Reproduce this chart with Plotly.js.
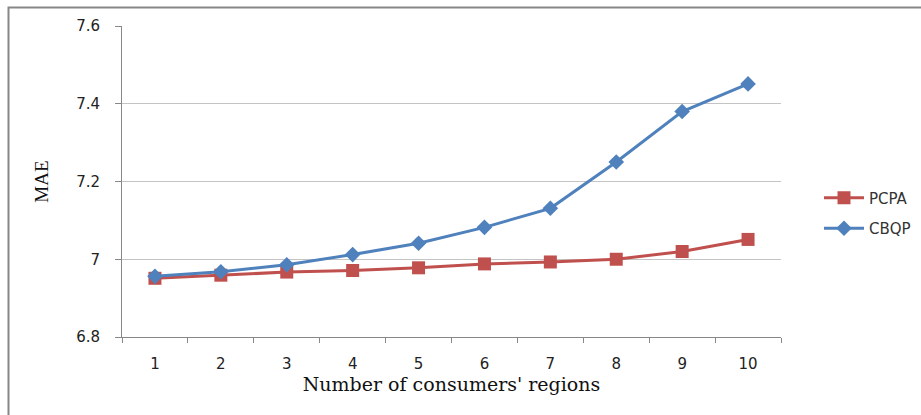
<!DOCTYPE html>
<html>
<head>
<meta charset="utf-8">
<script src="https://cdn.plot.ly/plotly-3.0.1.min.js"></script>
<style>
html,body{margin:0;padding:0;background:#fff;}
#chart{width:921px;height:415px;}
</style>
</head>
<body>
<div id="chart"></div>
<script>
const categories = ['1','2','3','4','5','6','7','8','9','10'];
const pcpa = [6.951, 6.959, 6.967, 6.971, 6.978, 6.988, 6.993, 7.000, 7.020, 7.051];
const cbqp = [6.956, 6.968, 6.986, 7.012, 7.041, 7.082, 7.131, 7.250, 7.380, 7.451];
const yTicks = [6.8, 7.0, 7.2, 7.4, 7.6];
const yTickText = ['6.8', '7', '7.2', '7.4', '7.6'];

const W = 921, H = 415;
const m = {l: 122, r: 140, t: 26, b: 78, autoexpand: false};
const pw = W - m.l - m.r, ph = H - m.t - m.b;
const px = v => (v - m.l) / pw;
const py = v => (H - m.b - v) / ph;

const traces = [
  {
    x: categories, y: pcpa, name: 'PCPA', type: 'scatter', mode: 'lines+markers',
    legendgroup: 'a',
    line: {color: '#C0504D', width: 3},
    marker: {symbol: 'square', size: 13, color: '#C0504D'}
  },
  {
    x: categories, y: cbqp, name: 'CBQP', type: 'scatter', mode: 'lines+markers',
    legendgroup: 'b',
    line: {color: '#4F81BD', width: 3},
    marker: {symbol: 'diamond', size: 12, color: '#4F81BD'}
  }
];

const layout = {
  width: W, height: H,
  margin: m,
  paper_bgcolor: '#fff', plot_bgcolor: '#fff',
  showlegend: true,
  legend: {
    x: px(819), y: py(213), xanchor: 'left', yanchor: 'middle',
    font: {family: 'DejaVu Sans, sans-serif', size: 15, color: '#333'},
    traceorder: 'grouped', tracegroupgap: 8,
    itemwidth: 40, bgcolor: 'rgba(0,0,0,0)'
  },
  xaxis: {
    type: 'category',
    range: [-0.5, 9.5],
    tickson: 'boundaries',
    ticks: 'outside', ticklen: 5, tickcolor: '#888',
    ticklabelstandoff: 13,
    showline: true, linecolor: '#888', linewidth: 1,
    showgrid: false, zeroline: false,
    tickfont: {family: 'DejaVu Sans, sans-serif', size: 15, color: '#222'},
    title: {text: "Number of consumers' regions", standoff: 5,
            font: {family: 'DejaVu Serif, serif', size: 19, color: '#111'}},
    fixedrange: true
  },
  yaxis: {
    range: [6.8, 7.6],
    tickvals: yTicks, ticktext: yTickText,
    ticks: 'outside', ticklen: 6, tickcolor: '#888',
    ticklabelstandoff: 12,
    showline: true, linecolor: '#888', linewidth: 1,
    showgrid: true, gridcolor: '#c4c4c4', gridwidth: 1,
    zeroline: false,
    tickfont: {family: 'DejaVu Sans, sans-serif', size: 15, color: '#222'},
    title: {text: 'MAE', standoff: 22,
            font: {family: 'Liberation Serif, serif', size: 19, color: '#111'}},
    fixedrange: true
  },
  shapes: [
    {type: 'rect', xref: 'paper', yref: 'paper',
     x0: px(8.5), x1: px(930), y0: py(430), y1: py(7.5),
     line: {color: '#888', width: 2}, fillcolor: 'rgba(0,0,0,0)', layer: 'below'}
  ]
};

Plotly.newPlot('chart', traces, layout, {displayModeBar: false, staticPlot: true});
</script>
</body>
</html>
